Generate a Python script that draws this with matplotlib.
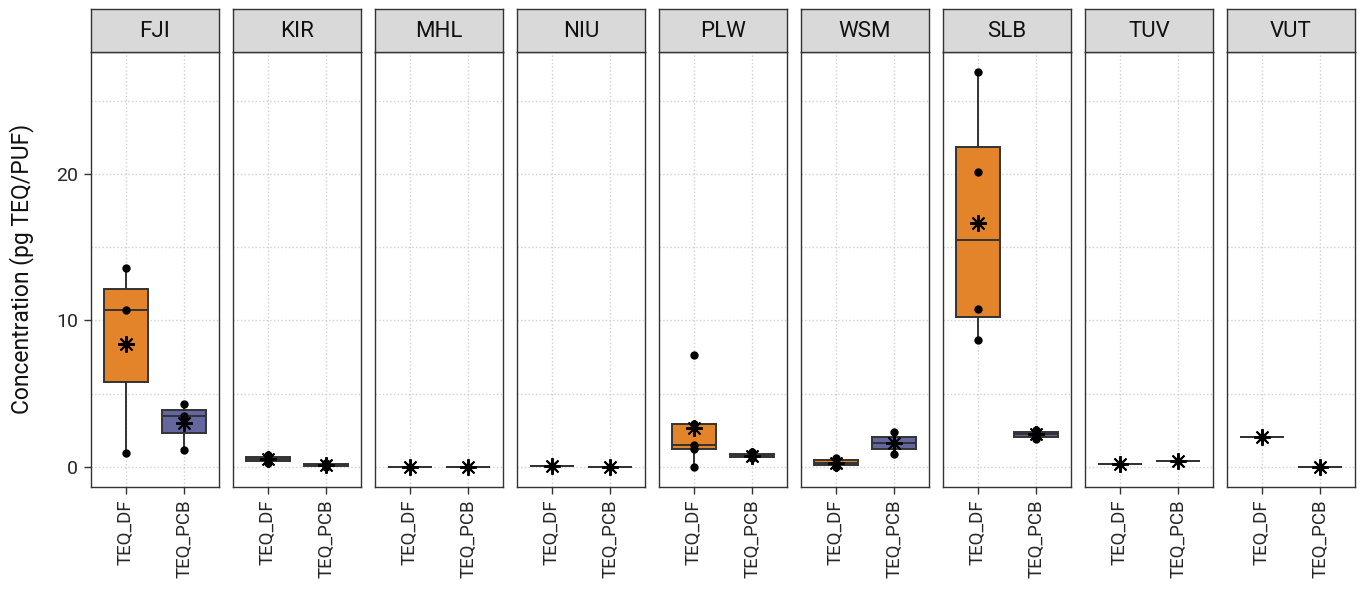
import matplotlib
matplotlib.use("Agg")
import matplotlib.pyplot as plt
from matplotlib.ticker import MultipleLocator
import numpy as np

plt.rcParams['font.family'] = ['Roboto', 'DejaVu Sans']

# data (pg TEQ/PUF)
sites = ['FJI', 'KIR', 'MHL', 'NIU', 'PLW', 'WSM', 'SLB', 'TUV', 'VUT']
groups = ['TEQ_DF', 'TEQ_PCB']
teq_df = [[13.58, 10.70, 0.96],
          [0.84, 0.52, 0.25],
          [0.0],
          [0.09],
          [7.67, 2.96, 1.50, 1.23, 0.02],
          [0.60, 0.28, 0.02],
          [26.98, 20.16, 10.76, 8.67],
          [0.20],
          [2.02]]
teq_pcb = [[4.28, 3.50, 1.18],
           [0.28, 0.12, 0.0],
           [0.0],
           [0.0],
           [1.00, 0.74, 0.58],
           [2.41, 1.62, 0.85],
           [2.55, 2.35, 2.10, 1.90],
           [0.40],
           [0.0]]
fills = ['#E3832A', '#6466A0']

EDGE = '#333333'
GRID = '#D0D0D0'
TICKTXT = '#262626'

fig = plt.figure(figsize=(13.6, 5.97), dpi=100)

# layout in pixels -> figure fractions
W, H = 1360.0, 597.0
left0, pw, stride = 90.7, 128.6, 142.0
p_top, p_bot = 52.0, 486.7
s_top = 9.3

allv = np.concatenate([np.concatenate([np.array(a) for a in teq_df]),
                       np.concatenate([np.array(a) for a in teq_pcb])])
lo, hi = allv.min(), allv.max()
pad = 0.05 * (hi - lo)
ylim = (lo - pad, hi + pad)

for i, site in enumerate(sites):
    x0 = (left0 + i * stride) / W
    ax = fig.add_axes([x0, 1 - p_bot / H, pw / W, (p_bot - p_top) / H])
    data = [teq_df[i], teq_pcb[i]]
    pos = [1, 2]

    # grid first
    ax.set_axisbelow(True)
    ax.yaxis.set_major_locator(MultipleLocator(10))
    ax.yaxis.set_minor_locator(MultipleLocator(5))
    ax.grid(True, which='both', axis='y', color=GRID, linestyle=':', linewidth=1.0)
    ax.grid(True, which='major', axis='x', color=GRID, linestyle=':', linewidth=1.0)

    bp = ax.boxplot(data, positions=pos, widths=0.75, patch_artist=True,
                    showfliers=False, showcaps=False, whis=1.5,
                    boxprops=dict(edgecolor=EDGE, linewidth=1.4),
                    medianprops=dict(color=EDGE, linewidth=1.4),
                    whiskerprops=dict(color=EDGE, linewidth=1.4))
    for patch, c in zip(bp['boxes'], fills):
        patch.set_facecolor(c)

    for p, vals in zip(pos, data):
        ax.plot([p] * len(vals), vals, 'o', color='black', markersize=5, zorder=4)
        ax.plot([p], [np.mean(vals)], marker=(8, 2, 0), color='black',
                markersize=12, markeredgewidth=1.4, linestyle='none', zorder=5)

    ax.set_xlim(0.4, 2.6)
    ax.set_ylim(*ylim)
    ax.set_xticks(pos)
    ax.set_xticklabels(groups, rotation=90, fontsize=13.5, color=TICKTXT)
    ax.tick_params(axis='both', which='major', length=5, color=EDGE, width=1.0, pad=4)
    ax.tick_params(axis='y', which='minor', length=0)
    for s in ax.spines.values():
        s.set_color(EDGE)
        s.set_linewidth(1.0)
    if i == 0:
        ax.tick_params(axis='y', labelsize=14, labelcolor=TICKTXT)
        ax.set_ylabel('Concentration (pg TEQ/PUF)', fontsize=16.5, color='#111111', labelpad=16)
    else:
        ax.tick_params(axis='y', left=False, labelleft=False)

    # facet strip
    sx = fig.add_axes([x0, 1 - p_top / H, pw / W, (p_top - s_top) / H])
    sx.set_facecolor('#D9D9D9')
    sx.set_xticks([])
    sx.set_yticks([])
    for s in sx.spines.values():
        s.set_color(EDGE)
        s.set_linewidth(1.0)
    sx.text(0.5, 0.48, site, ha='center', va='center', fontsize=16, color='#111111',
            transform=sx.transAxes)

fig.savefig('out.png', dpi=100)
